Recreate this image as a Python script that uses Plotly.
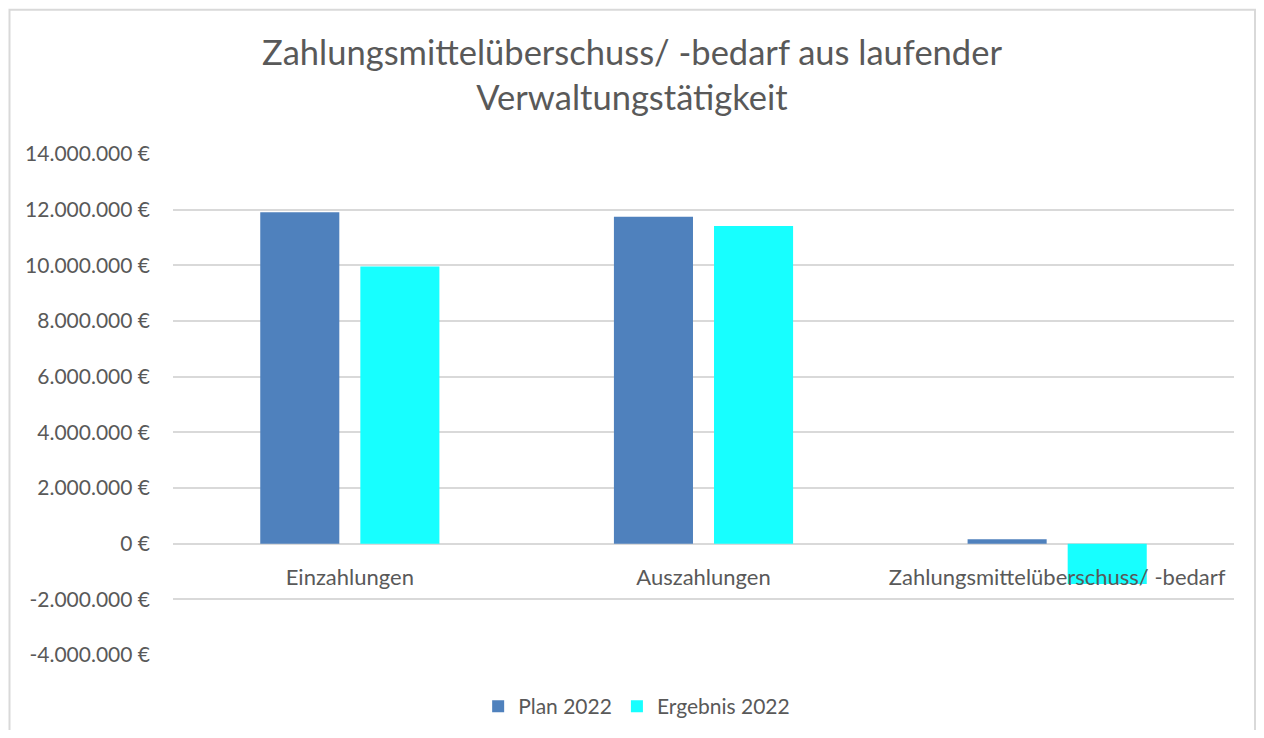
import plotly.graph_objects as go

categories = ["Einzahlungen", "Auszahlungen", "Zahlungsmittelüberschuss/ -bedarf"]
plan_2022 = [11910000, 11750000, 160000]
ergebnis_2022 = [9960000, 11410000, -1450000]
tick_values = [-4000000, -2000000, 0, 2000000, 4000000, 6000000, 8000000,
               10000000, 12000000, 14000000]
tick_labels = ["-4.000.000 €", "-2.000.000 €", "0 €", "2.000.000 €", "4.000.000 €",
               "6.000.000 €", "8.000.000 €", "10.000.000 €", "12.000.000 €", "14.000.000 €"]

FONT = "Lato"
GRAY = "#595959"
GRID = "#d9d9d9"

fig = go.Figure()
fig.add_trace(go.Bar(name="Plan 2022", x=categories, y=plan_2022,
                     marker=dict(color="#4f81bd", line=dict(width=0))))
fig.add_trace(go.Bar(name="Ergebnis 2022", x=categories, y=ergebnis_2022,
                     marker=dict(color="#17ffff", line=dict(width=0))))

ymin, ymax = -4000000, 14000000
W, H = 1248, 722
fig.update_layout(
    width=W, height=H,
    margin=dict(l=165, r=22, t=146, b=75, autoexpand=False),
    paper_bgcolor="white", plot_bgcolor="white",
    barmode="group", bargap=0.434, bargroupgap=0.21,
    font=dict(family=FONT, color=GRAY, size=21),
    title=dict(text="Zahlungsmittelüberschuss/ -bedarf aus laufender<br>Verwaltungstätigkeit",
               x=0.5, xanchor="center", y=1 - 57 / H, yanchor="top",
               font=dict(family=FONT, size=34.5, color=GRAY)),
    legend=dict(orientation="h", x=0.437, xanchor="center",
                y=-0.103, yanchor="middle",
                font=dict(family=FONT, size=21, color=GRAY), itemwidth=30,
                traceorder="normal"),
    xaxis=dict(anchor="free", position=(0 - ymin) / (ymax - ymin), automargin=False,
               showline=False, showgrid=False, zeroline=False, ticks="",
               ticklabelstandoff=18, tickfont=dict(family=FONT, size=22, color=GRAY)),
    yaxis=dict(range=[ymin, ymax], tickvals=tick_values, ticktext=tick_labels,
               automargin=False,
               showgrid=True, gridcolor=GRID, gridwidth=1.5,
               zeroline=True, zerolinecolor=GRID, zerolinewidth=1.5,
               showline=False, ticks="", ticklabelstandoff=22,
               tickfont=dict(family=FONT, size=21, color=GRAY)),
    shapes=[dict(type="rect", xref="paper", yref="paper",
                 x0=-0.1541, x1=1.0198, y0=-0.3, y1=1.288,
                 line=dict(color=GRID, width=2), fillcolor="rgba(0,0,0,0)", layer="below")],
)

fig.write_html("out.html")
